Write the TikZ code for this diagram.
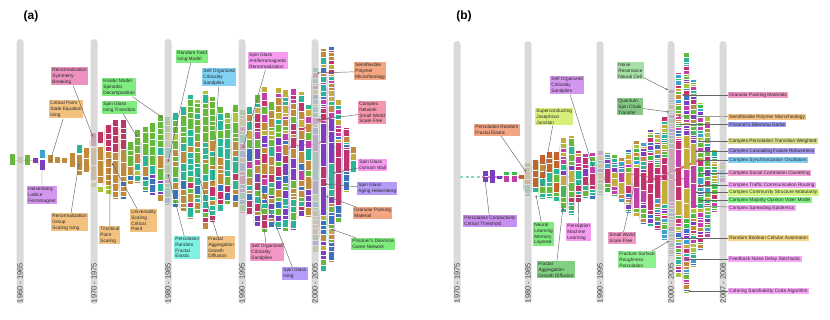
\documentclass[tikz,border=0pt]{standalone}
\usepackage{fontspec}
\setmainfont{Liberation Sans}
\usetikzlibrary{arrows.meta}
\pgfdeclarelayer{bg}
\pgfsetlayers{bg,main}
% block colours
\definecolor{cG}{HTML}{66B83A}
\definecolor{cGR}{HTML}{3DBB4C}
\definecolor{cOL}{HTML}{A9C53A}
\definecolor{cOLg}{HTML}{8FAE6E}
\definecolor{cT}{HTML}{2BB598}
\definecolor{cB}{HTML}{BF8A3C}
\definecolor{cOR}{HTML}{C4632F}
\definecolor{cM}{HTML}{C0336D}
\definecolor{cPK}{HTML}{C13FA6}
\definecolor{cBL}{HTML}{3B72BD}
\definecolor{cP}{HTML}{7C3DC1}
\definecolor{cO}{HTML}{C2AD3B}
\definecolor{cCY}{HTML}{3AA3C9}
\definecolor{barc}{HTML}{CDCDCD}
% label colours
\definecolor{xPink}{HTML}{EE90C0}
\definecolor{xTan}{HTML}{F2C27E}
\definecolor{xGreen}{HTML}{80EC80}
\definecolor{xBlue}{HTML}{82D2F4}
\definecolor{xLilac}{HTML}{D497F0}
\definecolor{xCyan}{HTML}{80F2E2}
\definecolor{xMag}{HTML}{F59BF0}
\definecolor{xPink2}{HTML}{F397C6}
\definecolor{xPurp}{HTML}{B49BF7}
\definecolor{xSalm}{HTML}{F4A682}
\definecolor{xRose}{HTML}{F496AE}
\definecolor{xYG}{HTML}{D8F07A}
\definecolor{xPurp2}{HTML}{C88FF0}
\definecolor{xDG}{HTML}{80D080}
\definecolor{xPG}{HTML}{A6E0A6}
\definecolor{xMG}{HTML}{84C884}
\definecolor{xFG}{HTML}{8EF08E}
\definecolor{xBlu2}{HTML}{9B9BF3}
\definecolor{xOlv}{HTML}{D8DC8A}
\definecolor{xVio}{HTML}{A99BF0}
\definecolor{xSky}{HTML}{84D0F5}
\definecolor{xRos2}{HTML}{F3A0D8}
\definecolor{xMag2}{HTML}{F8A6F7}
\definecolor{xLime}{HTML}{D4F282}
\definecolor{xGrn2}{HTML}{84F384}
\definecolor{xYel}{HTML}{F2D886}
% random lists
\pgfmathdeclarerandomlist{L1t}{{cM}}
\pgfmathdeclarerandomlist{L1m}{{cB}}
\pgfmathdeclarerandomlist{L1b}{{cB}{cBL}{cOL}{cB}}
\pgfmathdeclarerandomlist{L2t}{{cG}}
\pgfmathdeclarerandomlist{L2m}{{cB}{cB}{cT}{cG}}
\pgfmathdeclarerandomlist{L2b}{{cB}{cP}{cT}{cG}{cBL}{cOL}}
\pgfmathdeclarerandomlist{L3t}{{cG}{cG}{cG}{cT}{cOL}}
\pgfmathdeclarerandomlist{L3m}{{cT}{cG}{cB}{cT}{cB}}
\pgfmathdeclarerandomlist{L3b}{{cB}{cB}{cT}{cG}{cBL}{cM}}
\pgfmathdeclarerandomlist{L4t}{{cG}{cM}{cO}{cT}{cPK}{cB}}
\pgfmathdeclarerandomlist{L4m}{{cM}{cPK}{cG}{cBL}{cT}{cB}{cP}}
\pgfmathdeclarerandomlist{L4b}{{cB}{cT}{cG}{cP}{cBL}{cM}}
\pgfmathdeclarerandomlist{L5t}{{cO}{cT}{cM}{cB}{cPK}{cBL}}
\pgfmathdeclarerandomlist{L5m}{{cM}{cM}{cP}{cP}{cT}{cM}}
\pgfmathdeclarerandomlist{L5b}{{cP}{cT}{cB}{cG}{cBL}{cO}}
\pgfmathdeclarerandomlist{R2t}{{cOR}{cOR}{cB}}
\pgfmathdeclarerandomlist{R2m}{{cOR}{cT}{cG}{cOR}}
\pgfmathdeclarerandomlist{R2b}{{cG}{cT}{cGR}}
\pgfmathdeclarerandomlist{R3t}{{cG}{cM}{cT}{cO}{cPK}}
\pgfmathdeclarerandomlist{R3m}{{cG}{cGR}{cT}{cO}{cM}{cP}}
\pgfmathdeclarerandomlist{R3b}{{cGR}{cG}{cT}{cBL}{cM}}
\pgfmathdeclarerandomlist{RAt}{{cG}{cGR}{cT}{cO}{cM}{cP}{cBL}{cPK}{cB}{cCY}{cOL}}
\pgfmathdeclarerandomlist{RAm}{{cM}{cM}{cM}{cPK}{cO}}
\pgfmathdeclarerandomlist{R6m}{{cP}{cBL}{cG}{cT}{cM}{cO}{cCY}{cGR}}
\newcommand\region[9]{\def\ltop{#1}\def\lmid{#2}\def\lbot{#3}%
  \def\tmin{#4}\def\tmax{#5}\def\mmin{#6}\def\mmax{#7}\def\bmin{#8}\def\bmax{#9}}
\newcommand\mkcol[3]{%
  \pgfmathsetmacro\dx{#1-\lastx}%
  \ifdim\dx pt<12pt
    \begin{pgfonlayer}{bg}%
    \foreach \k in {1,...,8}{%
      \pgfmathsetmacro\ya{\lastt+rnd*(\lastb-\lastt)}%
      \pgfmathsetmacro\yb{#2+rnd*(#3-#2)}%
      \pgfmathrandomitem{\cc}{\lmid}%
      \draw[\cc!45, line width=0.4pt] (\lastx+2.4,\ya) .. controls (\lastx+4.5,\ya) and (#1-4.5,\yb) .. (#1-2.4,\yb);
    }%
    \end{pgfonlayer}%
  \fi
  \pgfmathsetmacro\cy{#2}%
  \loop
    \pgfmathsetmacro\ff{(\cy-#2)/(#3-#2)}%
    \ifdim\ff pt<0.33pt \let\cl\ltop \let\hmn\tmin \let\hmx\tmax
    \else\ifdim\ff pt<0.66pt \let\cl\lmid \let\hmn\mmin \let\hmx\mmax
    \else \let\cl\lbot \let\hmn\bmin \let\hmx\bmax \fi\fi
    \pgfmathrandomitem{\cc}{\cl}%
    \pgfmathsetmacro\hh{random(\hmn,\hmx)}%
    \pgfmathsetmacro\ny{min(\cy+\hh,#3)}%
    \fill[\cc] (#1-2.5,\cy) rectangle (#1+2.5,\ny-0.8);%
    \let\cy\ny
  \ifdim\cy pt<#3pt\repeat
  \xdef\lastx{#1}\xdef\lastt{#2}\xdef\lastb{#3}%
}
\newcommand\cols[1]{\foreach \x/\t/\b in {#1}{\mkcol{\x}{\t}{\b}}}
\tikzset{
  lab/.style={anchor=north west, align=left, inner sep=1.2pt, text=black!85,
    font=\fontsize{4.75}{5.7}\selectfont},
  rlab/.style={anchor=west, inner sep=1.2pt, text=black!85,
    font=\fontsize{4.75}{5.7}\selectfont},
  arr/.style={draw=black!60, line width=0.45pt, -{Stealth[length=2.4pt,width=2pt]}},
  bar/.style={fill=barc, opacity=0.75, rounded corners=3.5pt},
  yr/.style={rotate=90, text=black!72, font=\fontsize{7.5}{8}\selectfont, inner sep=0pt},
  plab/.style={font=\bfseries\fontsize{12}{12}\selectfont, inner sep=0pt}
}
\begin{document}
\begin{tikzpicture}[x=1pt,y=-1pt]
\useasboundingbox (0,0) rectangle (830,319);
\pgfmathsetseed{12}
% ---------------- panel (a) flow ----------------
\foreach \x/\a/\b/\c in {12/154/165/cG, 20/157/163/cOLg, 27/155/165/cG, 35/158/163/cP,
  42/150/158/cCY, 42/160/170/cP, 50/155/163/cB, 57/157/163/cB, 64/158/163/cB,
  72/153/167/cB, 79/145/153/cT, 79/155/170/cB, 79/171/175/cB, 86/148/158/cB,
  86/159/172/cB, 93/133/146/cM, 93/148/165/cB, 93/166/180/cB, 93/183/187/cOL,
  100/132/143/cM, 100/147/160/cB, 100/161/176/cB, 100/177/183/cB, 100/187/192/cOL}
  {\fill[\c] (\x-2.5,\a) rectangle (\x+2.5,\b);}
\begin{pgfonlayer}{bg}
\foreach \a/\b/\c/\d in {12/160/20/160, 20/160/27/160, 27/160/35/160, 35/160/42/165,
  42/155/50/158, 50/159/57/160, 57/160/64/161, 64/160/72/158, 72/162/79/165,
  79/150/86/152, 79/160/86/166, 86/155/93/140, 86/165/93/170, 93/150/100/150, 93/175/100/185}
  {\draw[cB!50, line width=0.4pt] (\a+2.5,\b) .. controls (\a+4.5,\b) and (\c-4.5,\d) .. (\c-2.5,\d);}
\end{pgfonlayer}
\gdef\lastx{100}\gdef\lastt{132}\gdef\lastb{192}
\region{L1t}{L1m}{L1b}{4}{10}{6}{14}{4}{9}
\cols{108/125/195, 115/120/200, 123/120/200}
\region{L2t}{L2m}{L2b}{5}{12}{5}{13}{3}{8}
\cols{130/142/185, 137/130/183, 145/127/192, 152/123/196, 160/115/202}
\region{L3t}{L3m}{L3b}{4}{11}{4}{12}{4}{10}
\cols{167/117/205, 175/113/208, 183/107/212, 190/95/220, 197/100/214, 205/91/230,
  212/97/222, 220/107/212, 227/113/205, 235/105/208}
\region{L4t}{L4m}{L4b}{3}{9}{4}{13}{3}{8}
\cols{242/110/213, 249/107/215, 257/95/227, 264/87/233, 271/102/228, 278/88/230,
  285/90/232, 293/89/230, 301/92/217, 308/105/217}
\region{L5t}{L5m}{L5b}{2}{7}{8}{34}{3}{9}
\cols{315/68/253, 323/49/272, 331/47/262, 338/100/223, 346/128/192, 353/147/173}
\begin{pgfonlayer}{bg}
\draw[cM!60, line width=1.6pt] (300,130) .. controls (312,125) and (320,120) .. (331,118);
\draw[cM!55, line width=1.2pt] (285,150) .. controls (300,140) and (315,150) .. (323,140);
\end{pgfonlayer}
% ---------------- panel (b) flow ----------------
\draw[cT!55, line width=1.3pt, dash pattern=on 3pt off 2.5pt] (460,177) -- (482,177);
\draw[cPK!60, line width=1.3pt, dash pattern=on 3pt off 3pt] (482,177) -- (524,177);
\foreach \x/\a/\b/\c in {485/171/176/cP, 485/177/182/cP, 492/170/183/cP, 499/176/178.5/cP,
  506/172/175/cGR, 506/176/182/cPK, 514/172/175/cGR, 514/176/182/cPK, 521/175/179/cOR}
  {\fill[\c] (\x-2.5,\a) rectangle (\x+2.5,\b);}
\gdef\lastx{521}\gdef\lastt{175}\gdef\lastb{179}
\region{R2t}{R2m}{R2b}{5}{12}{4}{10}{3}{7}
\cols{527/163/197, 535/160/193, 542/155/200, 549/152/198, 556/152/202}
\region{R3t}{R3m}{R3b}{3}{8}{4}{12}{3}{8}
\cols{563/138/213, 571/136/215, 578/151/203, 585/154/198, 592/153/200, 600/151/195}
\region{RAt}{RAm}{RAt}{2}{5}{6}{26}{2}{5}
\cols{607/153/193, 614/155/197, 621/158/203, 628/150/213, 636/141/217, 643/143/225,
  650/130/227, 657/133/230, 664/117/240, 671/90/257, 678/73/278, 686/53/293, 693/80/267}
\region{RAt}{R6m}{RAt}{2}{5}{2}{7}{2}{5}
\cols{700/103/250, 707/117/240, 714/150/213, 722/163/183}
\begin{pgfonlayer}{bg}
\draw[cM!70, line width=2pt] (643,183) .. controls (660,178) and (675,170) .. (700,160);
\draw[cM!55, line width=1.2pt] (628,175) .. controls (645,172) and (660,185) .. (686,178);
\end{pgfonlayer}
% ---------------- time bars ----------------
\foreach \n/\x/\y in {ba/20/1960 - 1965, bb/94/1970 - 1975, bc/168/1980 - 1985,
  bd/242/1990 - 1995, be/315/2000 - 2005}{
  \fill[bar] (\x-3.5,39) rectangle (\x+3.5,304);
  \node[yr] (\n) at (\x,283) {\y};
}
\foreach \n/\x/\y in {bf/457/1970 - 1975, bg/528/1980 - 1985, bh/600/1990 - 1995,
  bi/671/2000 - 2005, bj/723/2007 - 2008}{
  \fill[bar] (\x-3.5,41) rectangle (\x+3.5,303);
  \node[yr] (\n) at (\x,283) {\y};
}
\node[plab] (pa) at (31,16) {(a)};
\node[plab] (pb) at (464,16) {(b)};
% ---------------- labels panel (a) ----------------
\node[lab, fill=xPink] (n1) at (51,67) {Renormalization\\Symmetry\\Breaking};
\node[lab, fill=xTan] (n2) at (49,100) {Critical Point\\State Equation\\Ising};
\node[lab, fill=xGreen] (n3) at (102,78) {Kinetic Model\\Spinodal\\Decomposition};
\node[lab, fill=xGreen] (n4) at (102,101) {Spin Glass\\Ising Transition};
\node[lab, fill=xGreen] (n5) at (176,50) {Random Field\\Ising Model};
\node[lab, fill=xBlue] (n6) at (202,68) {Self Organized\\Criticality\\Sandpiles};
\node[lab, fill=xLilac] (n7) at (27,186) {Heisenberg\\Lattice\\Ferromagnet};
\node[lab, fill=xTan] (n8) at (51,213) {Renormalization\\Group\\Scaling Ising};
\node[lab, fill=xTan] (n9) at (99,226) {Tricritical\\Point\\Scaling};
\node[lab, fill=xTan] (n10) at (130,209) {Universality\\Scaling\\Critical\\Point};
\node[lab, fill=xCyan] (n11) at (174,236) {Percolation\\Random\\Fractal\\Elastic};
\node[lab, fill=xTan] (n12) at (207,236) {Fractal\\Aggregation\\Growth\\Diffusion};
\node[lab, fill=xMag] (n13) at (248,52) {Spin Glass\\Antiferromagnetic\\Renormalization};
\node[lab, fill=xPink2] (n14) at (250,243) {Self Organized\\Criticality\\Sandpiles};
\node[lab, fill=xPurp] (n15) at (282,267) {Spin Glass\\Ising};
\node[lab, fill=xSalm] (n16) at (354,62) {Semiflexible\\Polymer\\Microrheology};
\node[lab, fill=xRose] (n17) at (358,101) {Complex\\Network\\Small World\\Scale Free};
\node[lab, fill=xMag] (n18) at (358,159) {Spin Glass\\Domain Wall};
\node[lab, fill=xPurp] (n19) at (357,182) {Spin Glass\\Aging Heisenberg};
\node[lab, fill=xSalm] (n20) at (353,207) {Granular Packing\\Material};
\node[lab, fill=xGreen] (n21) at (351,238) {Prisoner's Dilemma\\Game Network};
\foreach \i/\px/\py in {1/93/137, 2/50/162, 3/163/118, 4/137/137, 5/168/162, 6/213/183,
  7/42/165, 8/79/163, 9/110/158, 10/112/163, 11/168/174, 12/198/174, 13/243/148,
  14/257/175, 15/263/193, 16/317/73, 17/317/120, 18/333/173, 19/325/184, 20/326/196,
  21/331/229}{
  \coordinate (t\i) at (\px,\py);
  \draw[arr] (n\i) -- (t\i);
}
% ---------------- labels panel (b) ----------------
\node[lab, fill=xSalm] (n22) at (474,124) {Percolation Random\\Fractal Elastic};
\node[lab, fill=xYG] (n23) at (535,108) {Superconducting\\Josephson\\Junction};
\node[lab, fill=xLilac] (n24) at (550,76) {Self Organized\\Criticality\\Sandpiles};
\node[lab, fill=xPurp2] (n25) at (463,215) {Percolation Conductivity\\Critical Threshold};
\node[lab, fill=xGreen] (n26) at (533,222) {Neural\\Learning\\Memory\\Layered};
\node[lab, fill=xDG] (n27) at (537,261) {Fractal\\Aggregation\\Growth Diffusion};
\node[lab, fill=xMag] (n28) at (566,223) {Perception\\Machine\\Learning};
\node[lab, fill=xPG] (n29) at (617,62) {Noise\\Resonance\\Neural Cell};
\node[lab, fill=xMG] (n30) at (617,98) {Quantum\\Spin Chain\\Transfer};
\node[lab, fill=xPink2] (n31) at (608,232) {Small World\\Scale Free};
\node[lab, fill=xFG] (n32) at (618,251) {Fracture Surface\\Roughness\\Percolation};
\node[rlab, fill=xPink2] (n33) at (728,95) {Granular Packing Materials};
\node[rlab, fill=xTan] (n34) at (728,117) {Semiflexible Polymer Microrheology};
\node[rlab, fill=xBlu2] (n35) at (728,124.5) {Prisoner's Dilemma Game};
\node[rlab, fill=xOlv] (n36) at (728,141) {Complex Percolation Transition Weighted};
\node[rlab, fill=xVio] (n37) at (728,151) {Complex Cascading Failure Robustness};
\node[rlab, fill=xSky] (n38) at (728,160) {Complex Synchronization Oscillators};
\node[rlab, fill=xRos2] (n39) at (728,173) {Complex Social Correlation Clustering};
\node[rlab, fill=xMag2] (n40) at (728,185) {Complex Traffic Communication Routing};
\node[rlab, fill=xLime] (n41) at (728,192.5) {Complex Community Structure Modularity};
\node[rlab, fill=xGrn2] (n42) at (728,200) {Complex Majority Opinion Voter Model};
\node[rlab, fill=xMag2] (n43) at (728,208) {Complex Spreading Epidemics};
\node[rlab, fill=xYel] (n44) at (728,238) {Random Boolean Cellular Automaton};
\node[rlab, fill=xMag2] (n45) at (728,259) {Feedback Noise Delay Stochastic};
\node[rlab, fill=xMag2] (n46) at (728,291) {Coloring Satisfiability Code Algorithm};
\foreach \i/\px/\py in {22/526/172, 23/542/187, 24/593/167, 25/485/179, 26/536/195,
  27/563/207, 28/578/183, 29/668/90, 30/669/112, 31/635/182, 32/669/241,
  33/682/95, 34/678/116, 35/679/124.5, 36/698/141, 37/695/151, 38/697/160, 39/698/173,
  40/698/185, 41/695/192.5, 42/698/200, 43/695/206, 44/680/238, 45/685/259, 46/688/291}{
  \coordinate (t\i) at (\px,\py);
  \draw[arr] (n\i) -- (t\i);
}
\end{tikzpicture}
\end{document}
